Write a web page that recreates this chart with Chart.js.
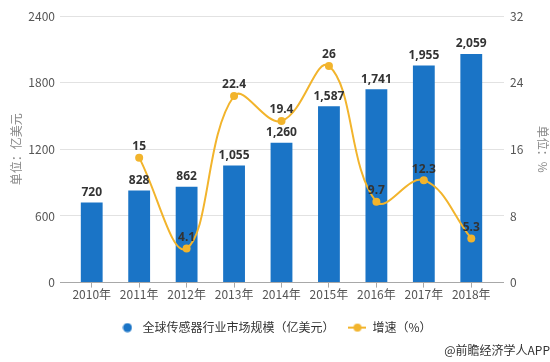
<!DOCTYPE html>
<html>
<head>
<meta charset="utf-8">
<script src="https://cdn.jsdelivr.net/npm/chart.js@4.4.1/dist/chart.umd.min.js"></script>
<style>
html,body{margin:0;padding:0;background:#fff;}
#wrap{width:550px;height:362px;position:relative;}
</style>
</head>
<body>
<div id="wrap"><canvas id="c" width="550" height="362"></canvas></div>
<script>
const categories = ['2010年','2011年','2012年','2013年','2014年','2015年','2016年','2017年','2018年'];
const marketSize = [720, 828, 862, 1055, 1260, 1587, 1741, 1955, 2059];
const growthRate = [null, 15, 4.1, 22.4, 19.4, 26, 9.7, 12.3, 5.3];
const leftTicks = [0, 600, 1200, 1800, 2400];
const rightTicks = [0, 8, 16, 24, 32];
const seriesNames = ['全球传感器行业市场规模（亿美元）', '增速（%）'];

const BLUE = '#1a74c6';
const GOLD = '#f2b42c';
const FONT = '"Noto Sans CJK SC", "Noto Sans", sans-serif';

function makeCircle() {
  const c = document.createElement('canvas');
  c.width = 10; c.height = 10;
  const g = c.getContext('2d');
  g.fillStyle = BLUE;
  g.beginPath(); g.arc(5, 5, 4.5, 0, Math.PI * 2); g.fill();
  return c;
}
function makeLineDot() {
  const c = document.createElement('canvas');
  c.width = 18; c.height = 10;
  const g = c.getContext('2d');
  g.strokeStyle = GOLD; g.lineWidth = 2;
  g.beginPath(); g.moveTo(0, 5); g.lineTo(18, 5); g.stroke();
  g.fillStyle = GOLD;
  g.beginPath(); g.arc(9, 5, 4, 0, Math.PI * 2); g.fill();
  return c;
}
const legendIcons = [makeCircle(), makeLineDot()];

const gridColor = (ctx) => ctx.index === 0 ? '#a8a8a8' : '#e2e2e2';

const valueLabels = {
  id: 'valueLabels',
  afterDatasetsDraw(chart) {
    const ctx = chart.ctx;
    ctx.save();
    ctx.font = 'bold 12px "Noto Sans", sans-serif';
    ctx.fillStyle = '#333';
    ctx.textAlign = 'center';
    ctx.textBaseline = 'bottom';
    chart.getDatasetMeta(0).data.forEach((el, i) => {
      ctx.fillText(marketSize[i].toLocaleString('en-US'), el.x, el.y - 4);
    });
    chart.getDatasetMeta(1).data.forEach((el, i) => {
      if (growthRate[i] == null) return;
      ctx.fillText(String(growthRate[i]), el.x, el.y - 5);
    });
    ctx.restore();
  }
};

new Chart(document.getElementById('c'), {
  data: {
    labels: categories,
    datasets: [
      {
        type: 'bar',
        label: seriesNames[0],
        data: marketSize,
        backgroundColor: BLUE,
        barPercentage: 0.46,
        categoryPercentage: 1,
        yAxisID: 'y',
        order: 2
      },
      {
        type: 'line',
        label: seriesNames[1],
        data: growthRate,
        borderColor: GOLD,
        backgroundColor: GOLD,
        borderWidth: 2,
        tension: 0.4,
        pointRadius: 4,
        pointBackgroundColor: GOLD,
        pointBorderWidth: 0,
        yAxisID: 'y1',
        order: 1
      }
    ]
  },
  options: {
    responsive: false,
    animation: false,
    layout: { padding: { top: 16, left: 0, right: 0, bottom: 0 } },
    plugins: {
      tooltip: { enabled: false },
      legend: {
        position: 'bottom',
        labels: {
          usePointStyle: true,
          pointStyleWidth: 18,
          padding: 14,
          color: '#333',
          font: { family: FONT, size: 12 },
          sort: (a, b) => a.datasetIndex - b.datasetIndex,
          generateLabels(chart) {
            const items = Chart.defaults.plugins.legend.labels.generateLabels(chart);
            items.forEach(it => { it.pointStyle = legendIcons[it.datasetIndex]; });
            return items;
          }
        }
      },
      subtitle: {
        display: true,
        position: 'bottom',
        align: 'end',
        text: '@前瞻经济学人APP',
        color: '#333',
        font: { family: FONT, size: 12 },
        padding: { top: 0, bottom: 4 }
      }
    },
    scales: {
      x: {
        type: 'category',
        offset: true,
        border: { display: false },
        grid: { offset: false, drawOnChartArea: false, drawTicks: true, tickLength: 5, color: '#a8a8a8' },
        ticks: { color: '#555', font: { family: FONT, size: 12 }, padding: 0, maxRotation: 0 },
        afterFit(s) { s.height = 25; }
      },
      y: {
        position: 'left',
        min: 0, max: 2400,
        afterBuildTicks(s) { s.ticks = leftTicks.map(v => ({ value: v })); },
        border: { display: false },
        grid: { color: gridColor, tickLength: 8 },
        ticks: { color: '#555', font: { family: FONT, size: 12 }, padding: 5, callback: (v) => String(v) },
        title: { display: true, text: '单位：亿美元', color: '#888', font: { family: FONT, size: 12 }, padding: { top: 9, bottom: 0 } },
        afterFit(s) { s.width = 68; }
      },
      y1: {
        position: 'right',
        min: 0, max: 32,
        afterBuildTicks(s) { s.ticks = rightTicks.map(v => ({ value: v })); },
        border: { display: false },
        grid: { color: gridColor, drawOnChartArea: false, tickLength: 9 },
        ticks: { color: '#555', font: { family: FONT, size: 12 }, padding: 6, callback: (v) => String(v) },
        title: { display: true, text: '单位：%', color: '#888', font: { family: FONT, size: 12 }, padding: { top: 0, bottom: 0 } },
        afterFit(s) { s.width = 55; }
      }
    }
  },
  plugins: [valueLabels]
});
</script>
</body>
</html>
